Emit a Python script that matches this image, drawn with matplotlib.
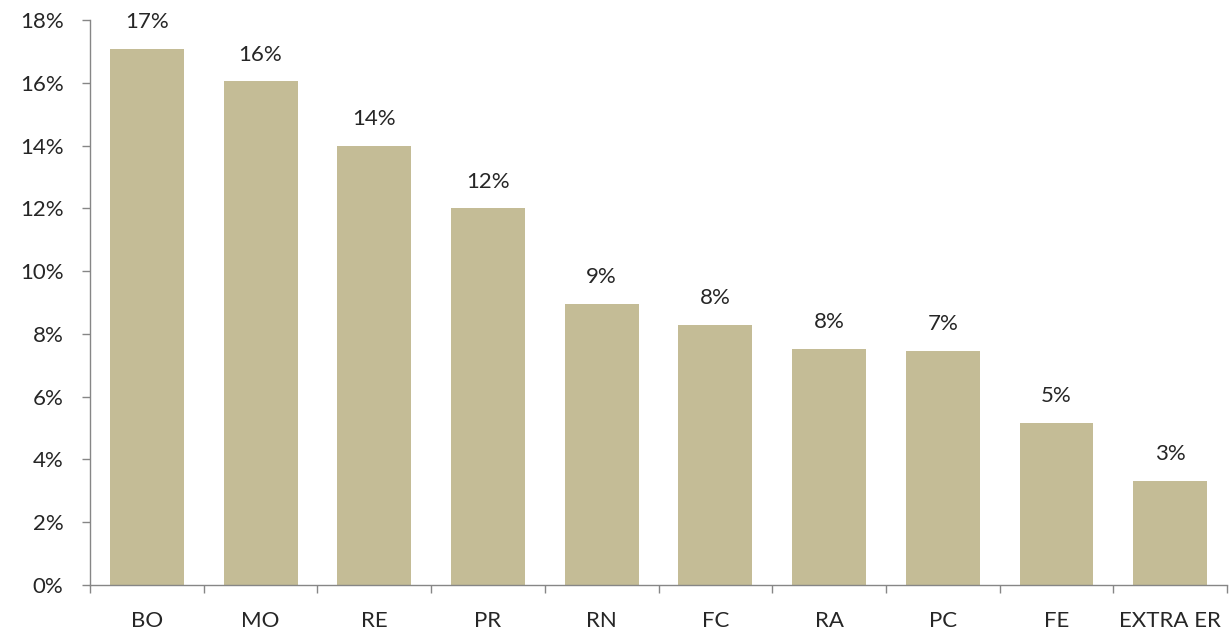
import numpy as np
import matplotlib.pyplot as plt
from matplotlib.ticker import FuncFormatter

# Data (percent)
categories = ["BO", "MO", "RE", "PR", "RN", "FC", "RA", "PC", "FE", "EXTRA ER"]
values = [17.07, 16.05, 13.98, 12.0, 8.95, 8.28, 7.52, 7.45, 5.16, 3.31]

BAR_COLOR = "#C4BC96"
TEXT_COLOR = "#262626"
AXIS_COLOR = "#868686"
FS = 16

plt.rcParams['font.family'] = ['Lato', 'DejaVu Sans']

fig = plt.figure(figsize=(12.31, 6.38), dpi=100)
ax = fig.add_axes([0.0731, 0.0831, 0.9237, 0.8856])

x = np.arange(len(categories))
bars = ax.bar(x, values, width=0.65, color=BAR_COLOR, zorder=2)

# Value labels above bars
for xi, v in zip(x, values):
    ax.annotate(f"{v:.0f}%", xy=(xi, v), xytext=(0, 12), textcoords="offset points",
                ha="center", va="bottom", fontsize=FS, color=TEXT_COLOR)

ax.set_xlim(-0.5, len(categories) - 0.5)
ax.set_ylim(0, 18)
ax.set_yticks(np.arange(0, 19, 2))
ax.yaxis.set_major_formatter(FuncFormatter(lambda v, p: f"{v:.0f}%"))

# Excel-style: tick marks between categories, labels at centers
ax.set_xticks(np.arange(-0.5, len(categories), 1.0))
ax.set_xticklabels([])
ax.set_xticks(x, minor=True)
ax.set_xticklabels(categories, minor=True)
ax.tick_params(axis="x", which="major", direction="out", length=6, color=AXIS_COLOR, width=1)
ax.tick_params(axis="x", which="minor", length=0, pad=19, labelsize=FS, labelcolor=TEXT_COLOR)
ax.tick_params(axis="y", direction="out", length=6, color=AXIS_COLOR, width=1,
               labelsize=FS, labelcolor=TEXT_COLOR, pad=13)

for side in ["top", "right"]:
    ax.spines[side].set_visible(False)
for side in ["left", "bottom"]:
    ax.spines[side].set_color(AXIS_COLOR)
    ax.spines[side].set_linewidth(1)

fig.savefig("out.png", dpi=100)
